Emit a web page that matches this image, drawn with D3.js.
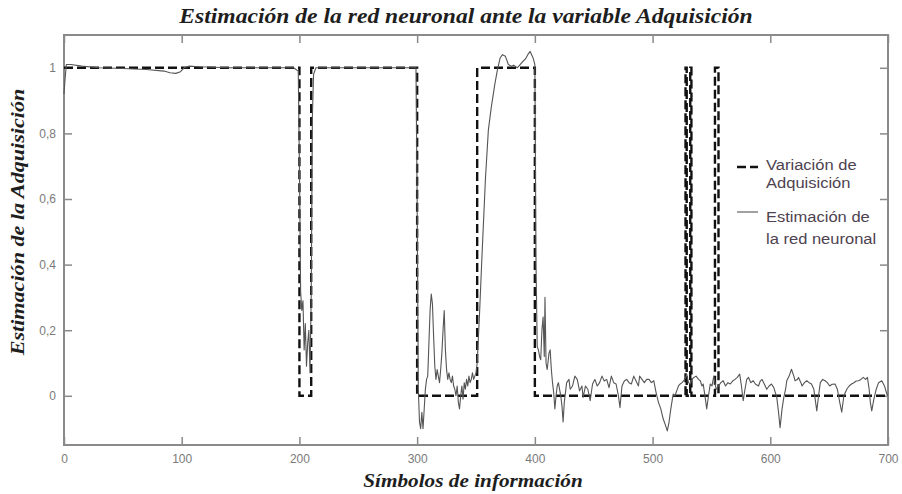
<!DOCTYPE html>
<html>
<head>
<meta charset="utf-8">
<script src="https://cdn.jsdelivr.net/npm/d3@7"></script>
<style>
  body { margin: 0; background: #fff; }
  svg { display: block; }
</style>
</head>
<body>
<div id="chart"></div>
<script>
// ---- data ----
const xTicks = [0, 100, 200, 300, 400, 500, 600, 700];
const yTicks = [0, 0.2, 0.4, 0.6, 0.8, 1];
const legendLabels = [["Variación de", "Adquisición"], ["Estimación de", "la red neuronal"]];

// step signal "Variación de Adquisición" (symbol, value)
const adquisicion = [
  [0, 1], [200, 1], [200, 0], [210, 0], [210, 1], [300, 1], [300, 0],
  [351, 0], [351, 1], [400, 1], [400, 0],
  [528, 0], [528, 1], [529, 1], [529, 0],
  [532, 0], [532, 1], [533, 1], [533, 0],
  [553, 0], [553, 1], [556, 1], [556, 0], [700, 0]
];

// network output "Estimación de la red neuronal" (symbol, value)
const estimacion = [
  [0, 0.92], [1, 0.97], [2, 1.01], [6, 1.01], [15, 1.005], [30, 1.0], [50, 0.998],
  [70, 0.995], [85, 0.99], [90, 0.985], [95, 0.983], [99, 0.988], [102, 1.0],
  [106, 1.005], [115, 1.003], [140, 1.0], [170, 1.0], [195, 1.0], [199, 0.99],
  [200, 0.7], [201, 0.32], [202, 0.26], [203, 0.29], [204, 0.14], [205, 0.22],
  [206, 0.09], [207, 0.16], [208, 0.2], [209, 0.07], [210, 0.3], [211, 0.85],
  [212, 0.98], [214, 1.0], [250, 1.0], [299, 1.0],
  [300, 0.6], [301, 0.02], [302, -0.08], [303, -0.1], [304, -0.05], [305, -0.1],
  [306, -0.04], [307, 0.02], [308, 0.05], [309, 0.06], [310, 0.16], [311, 0.26],
  [312, 0.31], [313, 0.28], [314, 0.18], [315, 0.09], [316, 0.05], [317, 0.08],
  [318, 0.06], [319, 0.04], [320, 0.08], [321, 0.13], [322, 0.2], [323, 0.26],
  [324, 0.14], [325, 0.08], [326, 0.05], [327, 0.07], [328, 0.05], [329, 0.04],
  [330, 0.06], [331, 0.03], [332, 0.02], [333, 0.0], [334, 0.03], [335, -0.02],
  [336, -0.04], [337, 0.0], [338, 0.03], [339, -0.01], [340, 0.04], [341, 0.02],
  [342, 0.05], [343, 0.03], [344, 0.06], [345, 0.04], [346, 0.05], [347, 0.07],
  [348, 0.05], [349, 0.06], [350, 0.07], [351, 0.1],
  [353, 0.25], [355, 0.42], [358, 0.66], [360.5, 0.81], [363, 0.88], [366, 0.95],
  [368, 0.99], [370.5, 1.03], [372.5, 1.04], [375, 1.035], [377.5, 1.01],
  [380, 1.005], [382, 1.008], [385, 1.0], [387.5, 1.01], [390, 1.02], [392, 1.027],
  [394, 1.04], [396, 1.05], [398.5, 1.03], [400, 1.01],
  [401, 0.4], [402, 0.15], [403, 0.14], [404, 0.12], [405, 0.11], [406, 0.2],
  [407, 0.24], [408, 0.12], [408.6, 0.3], [409.5, 0.1], [410.5, 0.08], [412, 0.13],
  [413, 0.14], [414, 0.08], [415, 0.04], [416, 0.01], [417, -0.04], [418, 0.0],
  [419, 0.03], [420, 0.04], [422, 0.0], [423, -0.03], [424, -0.08], [425, -0.02],
  [427, 0.04], [429, 0.05], [430, 0.02], [432, 0.03], [434, 0.06], [436, 0.05],
  [438, 0.015], [440, 0.03], [441, -0.005], [443, 0.03], [445, 0.02], [447, -0.015],
  [449, 0.036], [451, 0.05], [453, 0.03], [455, 0.04], [457, 0.06], [459, 0.045],
  [461, 0.05], [463, 0.025], [465, 0.06], [467, 0.04], [469, 0.036], [471, 0.0],
  [472.3, -0.036], [474, 0.03], [476, 0.045], [478, 0.05], [480, 0.04], [482, 0.036],
  [484, 0.06], [486, 0.045], [488, 0.03], [489, 0.06], [491, 0.05], [493, 0.04],
  [495, 0.05], [497, 0.05], [499, 0.04], [501, 0.046], [503, 0.01], [505, -0.02],
  [507, -0.04], [509, -0.07], [511, -0.09], [512.5, -0.107], [514, -0.08],
  [515.5, -0.04], [517.5, 0.005], [519, 0.0], [520.5, 0.015], [522, 0.03],
  [523.5, 0.036], [525, 0.04], [526.5, 0.046], [528, 0.055], [529, 0.066],
  [530.5, 0.04], [532, 0.036], [533.5, 0.05], [535, 0.056], [537, 0.06], [539, 0.05],
  [540.5, 0.046], [542, 0.03], [543, 0.036], [544.5, 0.0], [546, -0.04], [547.5, 0.0],
  [549, 0.036], [550.5, 0.03], [552, 0.06], [554, 0.02], [556, 0.03], [558, 0.04],
  [560, 0.046], [562, 0.03], [564, 0.04], [566, 0.036], [568, 0.045], [570, 0.05],
  [572, 0.056], [574, 0.066], [575.5, 0.03], [577, -0.015], [578.5, 0.02], [580, 0.05],
  [581.5, 0.056], [583.5, 0.04], [585.5, 0.046], [587.5, 0.035], [590, 0.03],
  [591.5, 0.045], [593, 0.05], [595, 0.035], [597, 0.02], [599, 0.03], [601, 0.036],
  [603, 0.025], [605.5, -0.005], [607, -0.05], [608.3, -0.097], [610, -0.04],
  [611.5, -0.005], [613, 0.02], [614, 0.046], [616, 0.06], [618, 0.081], [620, 0.06],
  [621, 0.046], [623, 0.05], [624, 0.056], [626, 0.04], [627, 0.03], [629, 0.04],
  [631, 0.046], [633, 0.04], [635, 0.036], [637, 0.02], [638.5, -0.02], [639.5, -0.046],
  [641, 0.0], [642.5, 0.04], [644.5, 0.05], [646.5, 0.046], [648.5, 0.04], [650.5, 0.03],
  [652.5, 0.035], [655, 0.036], [657, 0.02], [659, -0.02], [660.7, -0.05], [662.5, 0.0],
  [665, 0.02], [667, 0.03], [669, 0.036], [671, 0.04], [673, 0.045], [675, 0.046],
  [677, 0.05], [679, 0.056], [681, 0.05], [682.5, 0.056], [684, 0.02], [685, -0.02],
  [686.2, -0.046], [688, -0.01], [690, 0.02], [692, 0.04], [694.7, 0.046], [697, 0.03],
  [699, 0.005], [700, 0.0]
];

// ---- layout ----
const W = 902, H = 494;
const margin = {top: 35, right: 14, bottom: 49, left: 64};
const width = W - margin.left - margin.right,
      height = H - margin.top - margin.bottom;
const axisColor = "#8a8a8a";
const stretch = 1.18; // the original picture is widened horizontally

const svg = d3.select("#chart").append("svg")
  .attr("width", W).attr("height", H);

const g = svg.append("g")
  .attr("transform", "translate(" + margin.left + "," + margin.top + ")");

const x = d3.scaleLinear().domain([0, 700]).range([0, width]);
const y = d3.scaleLinear().domain([-0.15, 1.1]).range([height, 0]);

// widen a text element to match the stretched original
function widen(sel, factor) {
  sel.each(function() {
    const len = this.getComputedTextLength();
    d3.select(this).attr("textLength", len * factor).attr("lengthAdjust", "spacingAndGlyphs");
  });
}

// axes (ticks point inwards, matlab style)
const fmt = d => String(d).replace(".", ",");
g.append("g")
  .attr("transform", "translate(0," + height + ")")
  .call(d3.axisBottom(x).tickValues(xTicks).tickSize(-8).tickPadding(9));
g.append("g")
  .call(d3.axisLeft(y).tickValues(yTicks).tickFormat(fmt).tickSize(-8).tickPadding(8));
g.append("g")
  .call(d3.axisTop(x).tickValues(xTicks).tickSize(-8).tickFormat(""));
g.append("g")
  .attr("transform", "translate(" + width + ",0)")
  .call(d3.axisRight(y).tickValues(yTicks).tickSize(-8).tickFormat(""));

g.selectAll(".domain").remove();
g.selectAll(".tick line").attr("stroke", axisColor).attr("stroke-width", 1.5);
g.selectAll(".tick text")
  .attr("fill", "#7a7a7a")
  .style("font-family", "'Liberation Sans', Arial, sans-serif")
  .style("font-size", "12px");

g.append("rect")
  .attr("width", width).attr("height", height)
  .attr("fill", "none")
  .attr("stroke", axisColor)
  .attr("stroke-width", 2);

// step signal
const line = d3.line().x(d => x(d[0])).y(d => y(d[1]));
g.append("path")
  .datum(adquisicion)
  .attr("fill", "none")
  .attr("stroke", "#111")
  .attr("stroke-width", 2.4)
  .attr("stroke-dasharray", "9,4")
  .attr("d", line);

// network estimate
g.append("path")
  .datum(estimacion)
  .attr("fill", "none")
  .attr("stroke", "#555")
  .attr("stroke-width", 1.1)
  .attr("stroke-linejoin", "round")
  .attr("d", line);

// legend
const legend = svg.append("g").attr("transform", "translate(737,0)");
legend.append("line")
  .attr("x1", 0).attr("x2", 21).attr("y1", 167).attr("y2", 167)
  .attr("stroke", "#111").attr("stroke-width", 2.4).attr("stroke-dasharray", "9,4");
legend.append("line")
  .attr("x1", 0).attr("x2", 21).attr("y1", 212).attr("y2", 212)
  .attr("stroke", "#555").attr("stroke-width", 1.1);
const legendY = [[170, 188], [222, 244]];
legendLabels.forEach((lines, i) => {
  lines.forEach((t, j) => {
    legend.append("text")
      .attr("x", 29).attr("y", legendY[i][j])
      .attr("fill", "#4e4250")
      .style("font-family", "'Liberation Sans', Arial, sans-serif")
      .style("font-size", "14px")
      .text(t);
  });
});
widen(legend.selectAll("text"), stretch);

// titles
const serif = "'Liberation Serif', 'Times New Roman', serif";
const title = svg.append("text")
  .attr("x", 466).attr("y", 23)
  .attr("text-anchor", "middle")
  .attr("fill", "#1e1e1e")
  .style("font-family", serif)
  .style("font-style", "italic").style("font-weight", "bold")
  .style("font-size", "20px")
  .text("Estimación de la red neuronal ante la variable Adquisición");
widen(title, stretch);

const xTitle = svg.append("text")
  .attr("x", 473).attr("y", 487)
  .attr("text-anchor", "middle")
  .attr("fill", "#1e1e1e")
  .style("font-family", serif)
  .style("font-style", "italic").style("font-weight", "bold")
  .style("font-size", "18px")
  .text("Símbolos de información");
widen(xTitle, stretch);

const yTitle = svg.append("text")
  .attr("transform", "translate(24,222) rotate(-90)")
  .attr("text-anchor", "middle")
  .attr("fill", "#1e1e1e")
  .style("font-family", serif)
  .style("font-style", "italic").style("font-weight", "bold")
  .style("font-size", "18px")
  .text("Estimación de la Adquisición");
widen(yTitle, 1.23);
</script>
</body>
</html>
